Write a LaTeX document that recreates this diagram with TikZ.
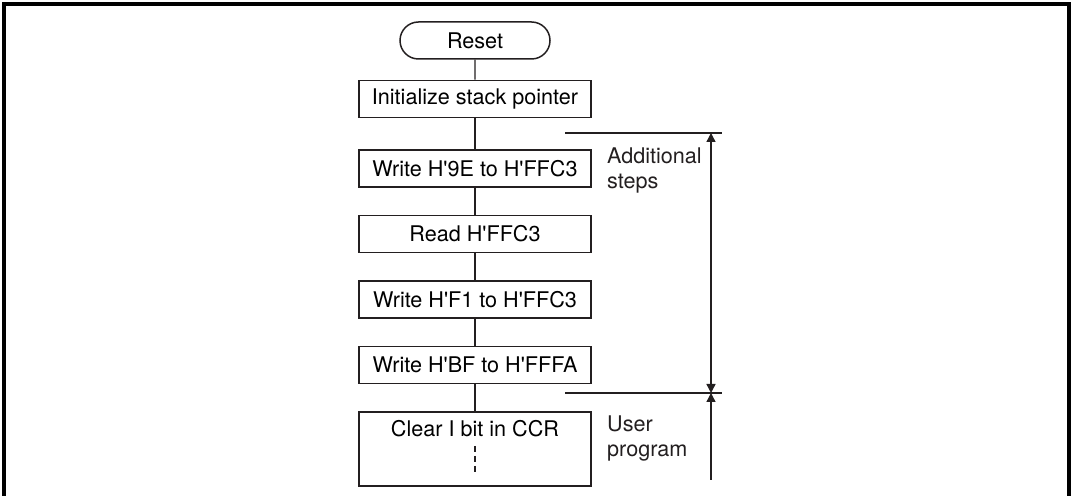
\documentclass[tikz,border=0pt]{standalone}
\usepackage{fontspec}
\setmainfont{TeX Gyre Heros}
\usepackage{tikz}
\usetikzlibrary{positioning, arrows.meta, shapes.misc}
\definecolor{ink}{HTML}{231F20}
\newcommand{\flowfont}{\fontsize{10.8}{12.5}\selectfont}
\newcommand{\hx}{H\textquotesingle}
\tikzset{
  flow box/.style={
    draw=ink,
    line width=0.75pt,
    minimum width=116pt,
    minimum height=18.5pt,
    inner sep=0pt,
    align=center,
    font=\flowfont
  },
  terminal/.style={
    flow box,
    rounded rectangle,
    minimum width=75pt
  },
  user box/.style={
    flow box,
    text height=12.25pt,
    text depth=24.75pt
  },
  side note/.style={
    inner sep=0pt,
    align=left,
    font=\flowfont,
    text=ink
  },
  flow line/.style={draw=ink, line width=0.7pt},
  span arrow/.style={
    draw=ink,
    line width=0.7pt,
    arrows={Triangle[length=4.5pt, width=4.5pt]-Triangle[length=4.5pt, width=4.5pt]}
  },
  up arrow/.style={
    draw=ink,
    line width=0.7pt,
    -{Triangle[length=4.5pt, width=4.5pt]}
  }
}

\begin{document}
\begin{tikzpicture}[x=0.5pt, y=-0.5pt, node distance=13.5pt]
  \useasboundingbox (0,0) rectangle (1072,496);
  % outer frame, open at the bottom
  \draw[black, line width=2pt] (3.5,520) -- (3.5,4) -- (1069,4) -- (1069,520);

  % flow
  \node[terminal] (reset) at (475,40.5) {Reset};
  \node[flow box, below=10pt of reset] (init) {Initialize stack pointer};
  \node[flow box, below=15.5pt of init] (w9e) {Write \hx9E to \hx FFC3};
  \node[flow box, below=of w9e] (rd) {Read \hx FFC3};
  \node[flow box, below=of rd] (wf1) {Write \hx F1 to \hx FFC3};
  \node[flow box, below=of wf1] (wbf) {Write \hx BF to \hx FFFA};
  \node[user box, below=of wbf] (clr) {Clear I bit in CCR};

  \draw[flow line] (reset) -- (init);
  \draw[flow line] (init) -- (w9e);
  \draw[flow line] (w9e) -- (rd);
  \draw[flow line] (rd) -- (wf1);
  \draw[flow line] (wf1) -- (wbf);
  \draw[flow line] (wbf) -- (clr);
  \draw[flow line, dash pattern=on 3pt off 2pt] ([yshift=1.5pt]clr.center) -- ([yshift=7pt]clr.south);

  % side notes
  \node[side note, below right=-1pt and 7.5pt of w9e.north east] (addl) {Additional\\steps};
  \node[side note, below right=2pt and 7.5pt of clr.north east] (usr) {User\\program};

  % extent markers
  \coordinate (topL) at (565,133);
  \coordinate (topR) at (722,133);
  \coordinate (midL) at (565,393);
  \coordinate (midR) at (722,393);
  \coordinate (arrTop) at (711,133);
  \coordinate (arrMid) at (711,393);
  \coordinate (arrBot) at (711,480);
  \draw[flow line] (topL) -- (topR);
  \draw[flow line] (midL) -- (midR);
  \draw[span arrow] (arrMid) -- (arrTop);
  \draw[up arrow] (arrBot) -- (arrMid);
\end{tikzpicture}
\end{document}
